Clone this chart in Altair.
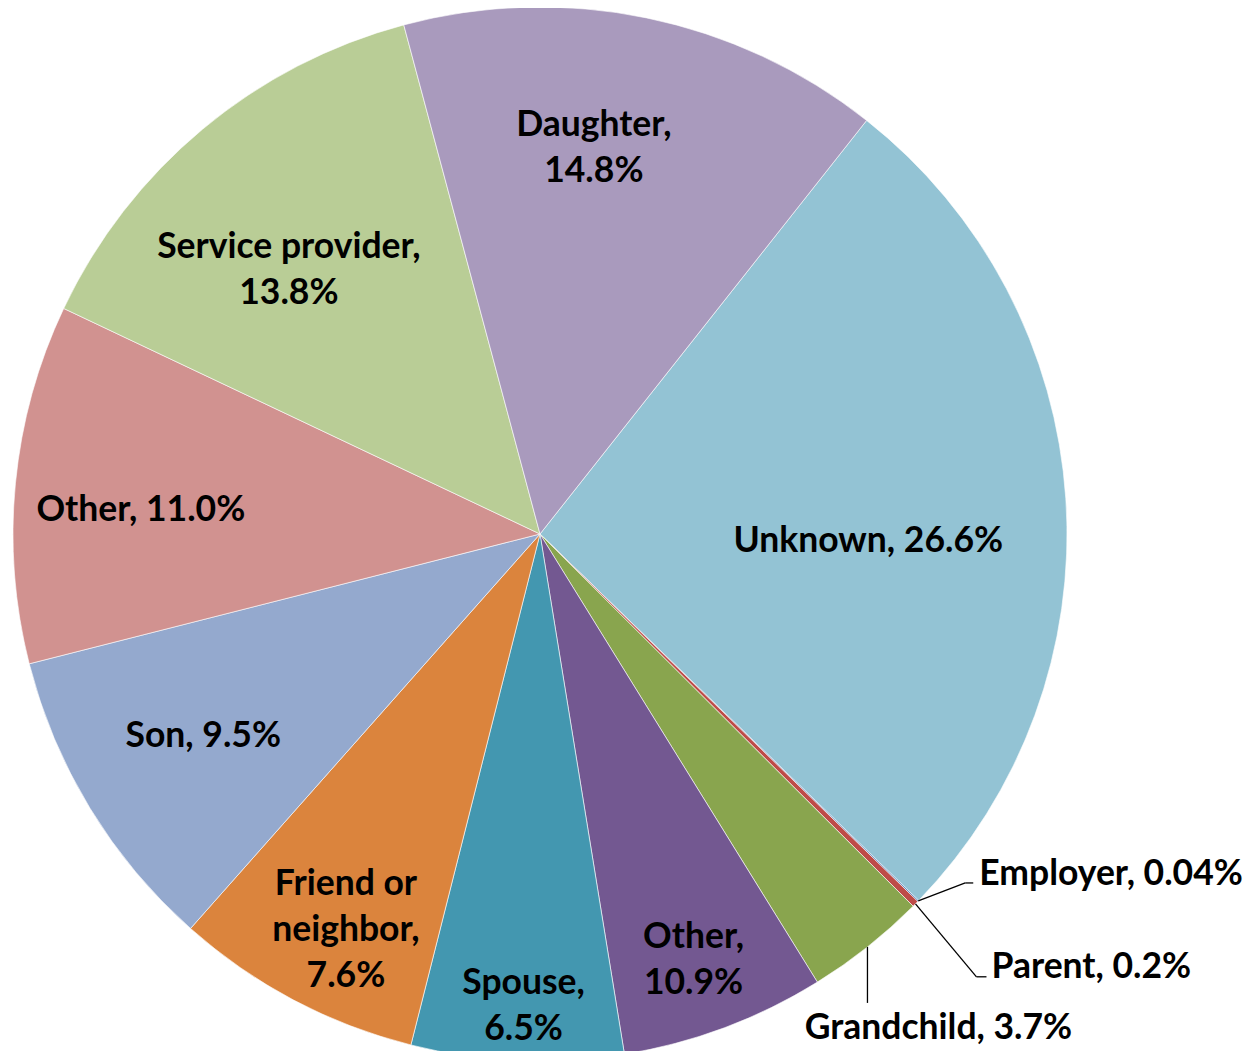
import math
import altair as alt
import pandas as pd

# ---- data ----
CATEGORIES = ["Unknown", "Employer", "Parent", "Grandchild", "Other", "Spouse",
              "Friend or neighbor", "Son", "Other", "Service provider", "Daughter"]
# slice sizes as drawn (the purple "Other" slice is drawn smaller than its label says)
VALUES = [26.6, 0.04, 0.2, 3.7, 6.26, 6.5, 7.6, 9.5, 11.0, 13.8, 14.8]
LABELS = ["Unknown, 26.6%", "Employer, 0.04%", "Parent, 0.2%", "Grandchild, 3.7%",
          "Other,\n10.9%", "Spouse,\n6.5%", "Friend or\nneighbor,\n7.6%", "Son, 9.5%",
          "Other, 11.0%", "Service provider,\n13.8%", "Daughter,\n14.8%"]
COLORS = ["#93C3D4", "#4A7EBB", "#BE4B48", "#89A54E", "#735891", "#4397B0",
          "#DB843D", "#94A9CE", "#D19290", "#B9CD96", "#A99ABD"]

# ---- layout / style ----
CX, CY, R = 532, 526, 527
START_DEG = 38.3
LINE_H = 46
LABEL_R = [328, 527, 527, 527, 453, 472, 441, 392, 400, 364, 390]
LABEL_DX = [1, 61, 76, 71, -5, 4, 12, -2, -1, -18, -25]
LABEL_DY = [29, -27, 63, 81, 2, 0, 6, -2, 15, 16, -4]
LABEL_ALIGN = ["center", "left", "left", "center", "center", "center", "center",
               "center", "center", "center", "center"]
# leader lines: (elbow dx, elbow dy, end dx, end dy) relative to slice edge
LEADERS = {1: (47, -18, 55, -18), 2: (61, 73, 71, 73), 3: (0, 56, 0, 56)}

total = 100.0
start, end, mid = [], [], []
acc = 0.0
for v in VALUES:
    start.append(acc)
    end.append(acc + v)
    mid.append(acc + v / 2)
    acc += v

df = pd.DataFrame({
    "idx": list(range(len(VALUES))),
    "cat": CATEGORIES,
    "value": VALUES,
    "label": LABELS,
    "start": start,
    "end": end,
    "mid": mid,
})

t0 = math.radians(START_DEG)
theta_scale = alt.Scale(domain=[0, total], range=[t0, t0 + 2 * math.pi])

base = alt.Chart(df)

arcs = base.mark_arc(radius=R, stroke="white", strokeWidth=0.6).encode(
    theta=alt.Theta("start:Q", scale=theta_scale),
    theta2="end:Q",
    color=alt.Color("idx:N", scale=alt.Scale(domain=list(range(len(VALUES))), range=COLORS), legend=None),
    x=alt.value(CX),
    y=alt.value(CY),
)

layers = [arcs]

# leader lines
seg_rows = []
for i, (ex, ey, fx, fy) in LEADERS.items():
    a = t0 + 2 * math.pi * mid[i] / total
    px = CX + R * math.sin(a)
    py = CY - R * math.cos(a)
    seg_rows.append({"x": px, "y": py, "x2": px + ex, "y2": py + ey})
    if (fx, fy) != (ex, ey):
        seg_rows.append({"x": px + ex, "y": py + ey, "x2": px + fx, "y2": py + fy})
lines_df = pd.DataFrame(seg_rows)
rules = alt.Chart(lines_df).mark_rule(color="black", strokeWidth=1.3).encode(
    x=alt.X("x:Q", scale=None, axis=None),
    y=alt.Y("y:Q", scale=None, axis=None),
    x2="x2:Q",
    y2="y2:Q",
)
layers.append(rules)

for i in range(len(VALUES)):
    n_lines = LABELS[i].count("\n") + 1
    dy = LABEL_DY[i] - (n_lines - 1) * LINE_H / 2
    t = base.transform_filter(alt.datum.idx == i).mark_text(
        font="Lato", fontWeight="bold", fontSize=35.5, lineBreak="\n", lineHeight=LINE_H,
        radius=LABEL_R[i], dx=LABEL_DX[i], dy=dy, align=LABEL_ALIGN[i],
        baseline="middle", color="black",
    ).encode(
        theta=alt.Theta("mid:Q", scale=theta_scale),
        text="label:N",
        x=alt.value(CX),
        y=alt.value(CY),
    )
    layers.append(t)

chart = alt.layer(*layers).properties(
    width=1244, height=1043,
    autosize=alt.AutoSizeParams(type="none"),
    padding=0,
).configure_view(strokeWidth=0)

chart.save("out.html", embed_options={"renderer": "svg", "actions": False})
